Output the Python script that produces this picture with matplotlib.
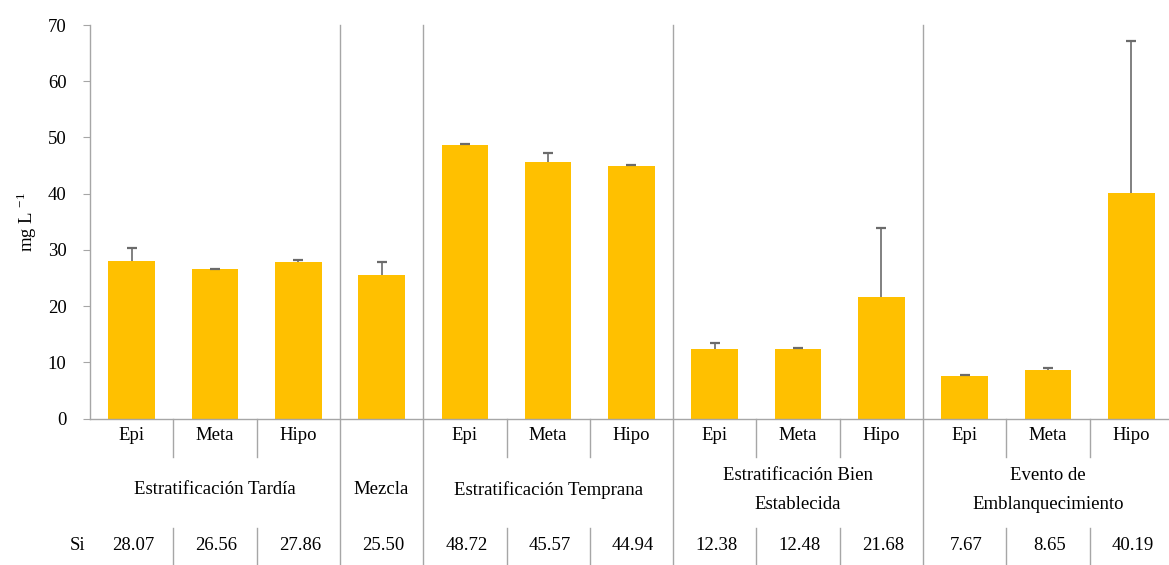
import matplotlib
matplotlib.use("Agg")
import matplotlib.pyplot as plt
import matplotlib.transforms as mtransforms
import numpy as np

plt.rcParams['font.family'] = ['Liberation Serif', 'DejaVu Serif']

# data
layers = ["Epi", "Meta", "Hipo", "", "Epi", "Meta", "Hipo",
          "Epi", "Meta", "Hipo", "Epi", "Meta", "Hipo"]
si_values = [28.07, 26.56, 27.86, 25.50, 48.72, 45.57, 44.94,
             12.38, 12.48, 21.68, 7.67, 8.65, 40.19]
si_errors = [2.3, 0.1, 0.3, 2.3, 0.1, 1.7, 0.1,
             1.0, 0.1, 12.3, 0.1, 0.4, 27.0]
groups = ["Estratificación Tardía", "Mezcla", "Estratificación Temprana",
          "Estratificación Bien\nEstablecida", "Evento de\nEmblanquecimiento"]
group_sizes = [3, 1, 3, 3, 3]
row_label = "Si"

W, H = 1169, 565
fig = plt.figure(figsize=(W / 100, H / 100), dpi=100)
ax_left, ax_right = 90 / W, 1.0
ax_top, ax_bot = 1 - 25 / H, 1 - 418.7 / H
ax = fig.add_axes([ax_left, ax_bot, ax_right - ax_left, ax_top - ax_bot])

x = np.arange(len(si_values))
ax.bar(x, si_values, width=0.56, color='#FFC000', zorder=2)
eb = ax.errorbar(x, si_values, yerr=[np.zeros(len(si_errors)), si_errors],
                 fmt='none', ecolor='#6b6b6b', elinewidth=1.2, capsize=3.5,
                 capthick=1.6, zorder=3)
# plus-only error bars: hide the cap sitting on the bar top
eb.lines[1][0].set_visible(False)

ax.set_ylim(0, 70)
ax.set_yticks(range(0, 71, 10))
ax.set_xlim(-0.5, -0.5 + (W - 90) / 83.3)
ax.set_xticks([])
for s in ['top', 'right']:
    ax.spines[s].set_visible(False)
for s in ['left', 'bottom']:
    ax.spines[s].set_color('#a6a6a6')
    ax.spines[s].set_linewidth(1.0)
fs = 13.5
ax.tick_params(axis='y', length=5, color='#a6a6a6', labelsize=fs, pad=12)
ax.set_ylabel('mg L $^{\\mathregular{-1}}$', fontsize=fs, labelpad=6)

trans = mtransforms.blended_transform_factory(ax.transData, fig.transFigure)


def fy(py):
    return 1 - py / H


# group boundaries and layer separators
bounds = np.cumsum(group_sizes)[:-1] - 0.5
for b in bounds:
    fig.add_artist(plt.Line2D([b, b], [fy(25), fy(H)], transform=trans,
                              color='#a6a6a6', lw=1.0))
seps = [i + 0.5 for i in range(len(layers) - 1) if i + 0.5 not in bounds]
for s in seps:
    fig.add_artist(plt.Line2D([s, s], [fy(419), fy(457)], transform=trans,
                              color='#a6a6a6', lw=1.0))
    fig.add_artist(plt.Line2D([s, s], [fy(528), fy(H)], transform=trans,
                              color='#a6a6a6', lw=1.0))

for xi, lab in zip(x, layers):
    fig.text(xi, fy(435), lab, transform=trans, ha='center', va='center', fontsize=fs)
for xi, v in zip(x, si_values):
    fig.text(xi + 0.02, fy(546), f"{v:.2f}", transform=trans, ha='center', va='center', fontsize=fs)
fig.text(78 / W, fy(546), row_label, ha='center', va='center', fontsize=fs)

starts = np.concatenate([[0], np.cumsum(group_sizes)[:-1]])
for st, n, g in zip(starts, group_sizes, groups):
    fig.text(st + (n - 1) / 2, fy(490), g, transform=trans, ha='center',
             va='center', fontsize=fs, linespacing=1.9)

fig.savefig('out.png', dpi=100)
